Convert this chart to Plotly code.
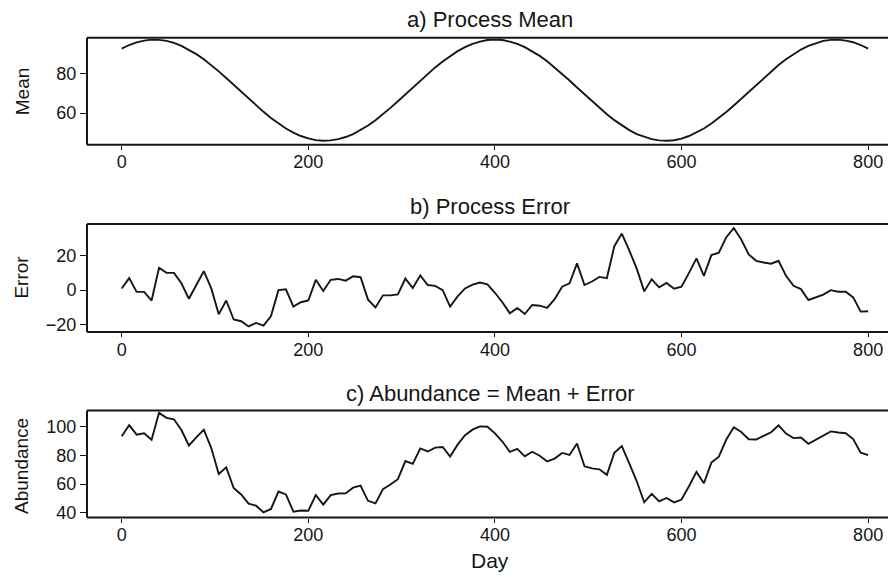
import plotly.graph_objects as go

# ---- data ----
days = list(range(0, 801, 8))

process_mean = [
    92.5, 94.3, 95.6, 96.5, 97.0, 96.9, 96.4, 95.4, 93.9, 92.0,
    89.7, 87.1, 84.2, 81.0, 77.7, 74.2, 70.7, 67.2, 63.8, 60.6,
    57.5, 54.7, 52.2, 50.1, 48.4, 47.2, 46.3, 46.0, 46.2, 46.8,
    47.9, 49.4, 51.4, 53.7, 56.4, 59.4, 62.6, 65.9, 69.4, 72.9,
    76.4, 79.8, 83.0, 86.0, 88.8, 91.2, 93.2, 94.9, 96.0, 96.8,
    97.0, 96.8, 96.0, 94.9, 93.2, 91.2, 88.8, 86.1, 83.0, 79.8,
    76.4, 72.9, 69.4, 66.0, 62.6, 59.4, 56.4, 53.8, 51.4, 49.4,
    47.9, 46.8, 46.2, 46.0, 46.3, 47.1, 48.4, 50.1, 52.2, 54.7,
    57.5, 60.5, 63.8, 67.2, 70.7, 74.2, 77.7, 81.0, 84.2, 87.1,
    89.7, 92.0, 93.9, 95.3, 96.4, 96.9, 97.0, 96.5, 95.7, 94.3,
    92.5,
]

process_error = [
    1, 7, -1, -1, -6, 13, 10, 10, 4, -5,
    3, 11, 1, -14, -6, -17, -18, -21, -19, -20.5,
    -15, 0, 0.5, -9.5, -7, -6, 6, -0.5, 6, 6.5,
    5.5, 8, 7.5, -5.5, -10, -3, -3, -2.5, 6.7, 1.2,
    8.6, 3, 2.5, 0, -9.5, -3.6, 1, 3.2, 4.4, 3.4,
    -1.5, -7, -13.4, -10.3, -13.8, -8.6, -9, -10.3, -5.2, 2,
    4, 15.5, 3, 5, 7.7, 7, 25.5, 32.8, 23, 12.5,
    -0.7, 6.3, 1.6, 4.2, 0.8, 2, 10, 18.4, 8.3, 20.3,
    21.7, 30.7, 36, 29.3, 20.7, 17, 16, 15.3, 17, 8.3,
    2.5, 0.6, -5.7, -4.2, -2.6, 0, -0.9, -0.9, -4.2, -12.4,
    -12.2,
]

abundance = [
    93.5, 101.3, 94.6, 95.5, 91.0, 109.9, 106.4, 105.4, 97.9, 87.0,
    92.7, 98.1, 85.2, 67.0, 71.7, 57.2, 52.7, 46.2, 44.8, 40.1,
    42.5, 54.7, 52.7, 40.6, 41.4, 41.2, 52.3, 45.5, 52.2, 53.3,
    53.4, 57.4, 58.9, 48.2, 46.4, 56.4, 59.6, 63.4, 76.1, 74.1,
    85.0, 82.8, 85.5, 86.0, 79.3, 87.6, 94.2, 98.1, 100.4, 100.2,
    95.5, 89.8, 82.6, 84.6, 79.4, 82.6, 79.8, 75.8, 77.8, 81.8,
    80.4, 88.4, 72.4, 71.0, 70.3, 66.4, 81.9, 86.6, 74.4, 61.9,
    47.2, 53.1, 47.8, 50.2, 47.1, 49.1, 58.4, 68.5, 60.5, 75.0,
    79.2, 91.2, 99.8, 96.5, 91.4, 91.2, 93.7, 96.3, 101.2, 95.4,
    92.2, 92.6, 88.2, 91.1, 93.8, 96.9, 96.1, 95.6, 91.5, 81.9,
    80.3,
]

x_ticks = [0, 200, 400, 600, 800]
mean_ticks = [60, 80]
error_ticks = [-20, 0, 20]
abund_ticks = [40, 60, 80, 100]

panel_titles = ["a) Process Mean", "b) Process Error", "c) Abundance = Mean + Error"]
y_titles = ["Mean", "Error", "Abundance"]
x_title = "Day"

# ---- layout helpers ----
W, H = 888, 581
FONT = "Liberation Sans, Arial, Helvetica, sans-serif"
INK = "#161616"

def px(x):
    return x / W

def py(y):
    return 1 - y / H

left_px = 87
x_range = [-37.2, 821.3]

panels = [
    dict(top=38, bottom=146, yr=[44, 98], ticks=mean_ticks, y=process_mean),
    dict(top=226, bottom=335, yr=[-24.3, 38.3], ticks=error_ticks, y=process_error),
    dict(top=414, bottom=522, yr=[36.5, 111.6], ticks=abund_ticks, y=abundance),
]

fig = go.Figure()
layout = dict(
    width=W, height=H,
    margin=dict(l=0, r=0, t=0, b=0, pad=0),
    paper_bgcolor="white", plot_bgcolor="white",
    showlegend=False,
    font=dict(family=FONT, size=18, color=INK),
)

shapes = []
for i, p in enumerate(panels):
    n = "" if i == 0 else str(i + 1)
    fig.add_trace(go.Scatter(
        x=days, y=p["y"], mode="lines",
        line=dict(color=INK, width=1.9),
        xaxis="x" + n, yaxis="y" + n, hoverinfo="skip",
    ))
    layout["xaxis" + n] = dict(
        domain=[px(left_px), 1], range=x_range, anchor="y" + n,
        tickvals=x_ticks, ticks="outside", ticklen=4, tickwidth=1.2, tickcolor=INK,
        showline=False, showgrid=False, zeroline=False, ticklabelstandoff=-3,
        tickfont=dict(family=FONT, size=18, color=INK),
    )
    layout["yaxis" + n] = dict(
        domain=[py(p["bottom"]), py(p["top"])], range=p["yr"], anchor="x" + n,
        tickvals=p["ticks"], ticks="outside", ticklen=6, tickwidth=1.2, tickcolor=INK,
        showline=False, showgrid=False, zeroline=False, ticksuffix="\u00a0",
        tickfont=dict(family=FONT, size=18, color=INK),
    )
    # frame: top, bottom and left edges (the right edge lies beyond the page)
    y0, y1 = py(p["bottom"]), py(p["top"])
    x0 = px(left_px)
    for (a, b, c, d) in [(x0, y1, 1, y1), (x0, y0, 1, y0), (x0, y0, x0, y1)]:
        shapes.append(dict(type="line", xref="paper", yref="paper",
                           x0=a, y0=b, x1=c, y1=d,
                           line=dict(color=INK, width=2)))

layout["shapes"] = shapes
fig.update_layout(**layout)

title_y = [20, 208, 397]
ylab_y = [92, 280, 470]
for t, ty in zip(panel_titles, title_y):
    fig.add_annotation(text=t, x=px(490), y=py(ty), xref="paper", yref="paper",
                       showarrow=False, xanchor="center", yanchor="middle",
                       font=dict(family=FONT, size=22, color=INK))
for t, ty in zip(y_titles, ylab_y):
    fig.add_annotation(text=t, x=px(22), y=py(ty), xref="paper", yref="paper",
                       showarrow=False, xanchor="center", yanchor="middle", textangle=-90,
                       font=dict(family=FONT, size=19, color=INK))
fig.add_annotation(text=x_title, x=px(490), y=py(565), xref="paper", yref="paper",
                   showarrow=False, xanchor="center", yanchor="middle",
                   font=dict(family=FONT, size=21, color=INK))

fig.write_html("out.html")
